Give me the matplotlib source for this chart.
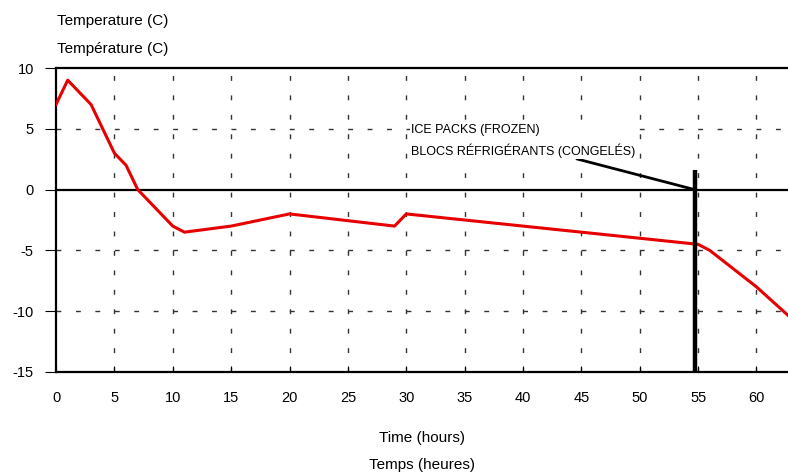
import numpy as np
from matplotlib import pyplot as plt

plt.rcParams['font.family'] = ['Liberation Sans', 'DejaVu Sans']
plt.rcParams['axes.unicode_minus'] = False

# temps (heures) et température (C)
hours = [0, 1, 3, 5, 6, 7, 10, 11, 15, 20, 29, 30, 55, 56, 60, 63]
temps = [7, 9, 7, 3, 2, 0, -3, -3.5, -3, -2, -3, -2, -4.5, -5, -8, -10.6]

x_ticks = [0, 5, 10, 15, 20, 25, 30, 35, 40, 45, 50, 55, 60]
y_ticks = [10, 5, 0, -5, -10, -15]
ice_packs_hour = 54.7
ice_packs_top = 1.6

fig = plt.figure(figsize=(7.88, 4.74), dpi=100)
ax = fig.add_axes([0.0711, 0.2152, 1.0 - 0.0711, 0.8565 - 0.2152])

ax.set_xlim(0, 62.7)
ax.set_ylim(-15, 10)

# grille pointillée
dash = (0, (3.5, 10.5))
for x in x_ticks[1:]:
    ax.axvline(x, color='#333333', lw=1, linestyle=dash, zorder=1)
for y in [5, -5, -10]:
    ax.axhline(y, color='#333333', lw=1, linestyle=dash, zorder=1)
ax.axhline(0, color='black', lw=1.6, zorder=2)

ax.plot(hours, temps, color='#e60000', lw=2.2, zorder=3)

# blocs réfrigérants
ax.plot([ice_packs_hour, ice_packs_hour], [-15, ice_packs_top], color='black', lw=3.2, zorder=4,
        solid_capstyle='butt')
ax.annotate('ICE PACKS (FROZEN)\nBLOCS RÉFRIGÉRANTS (CONGELÉS)', xy=(ice_packs_hour, 0),
            xytext=(30.4, 4.0), fontsize=9, linespacing=1.6, va='center', ha='left',
            bbox=dict(boxstyle='square,pad=0.1', fc='white', ec='none'),
            arrowprops=dict(arrowstyle='-', color='black', lw=2, shrinkA=0, shrinkB=0,
                            relpos=(0.69, 0.05)))

ax.set_xticks(x_ticks)
ax.set_yticks(y_ticks)
ax.tick_params(axis='x', direction='in', length=4, width=0.8, pad=14, labelsize=10.5)
ax.tick_params(axis='y', direction='out', length=8, width=0.8, pad=8, labelsize=10.5)

for side in ['left', 'bottom', 'top']:
    ax.spines[side].set_linewidth(1.6)
ax.spines['right'].set_visible(False)

fig.text(0.0723, 0.955, 'Temperature (C)', fontsize=11, va='center', ha='left')
fig.text(0.0723, 0.897, 'Température (C)', fontsize=11, va='center', ha='left')
fig.text(0.535, 0.075, 'Time (hours)', fontsize=11, va='center', ha='center')
fig.text(0.535, 0.018, 'Temps (heures)', fontsize=11, va='center', ha='center')

fig.savefig('out.png', dpi=100)
